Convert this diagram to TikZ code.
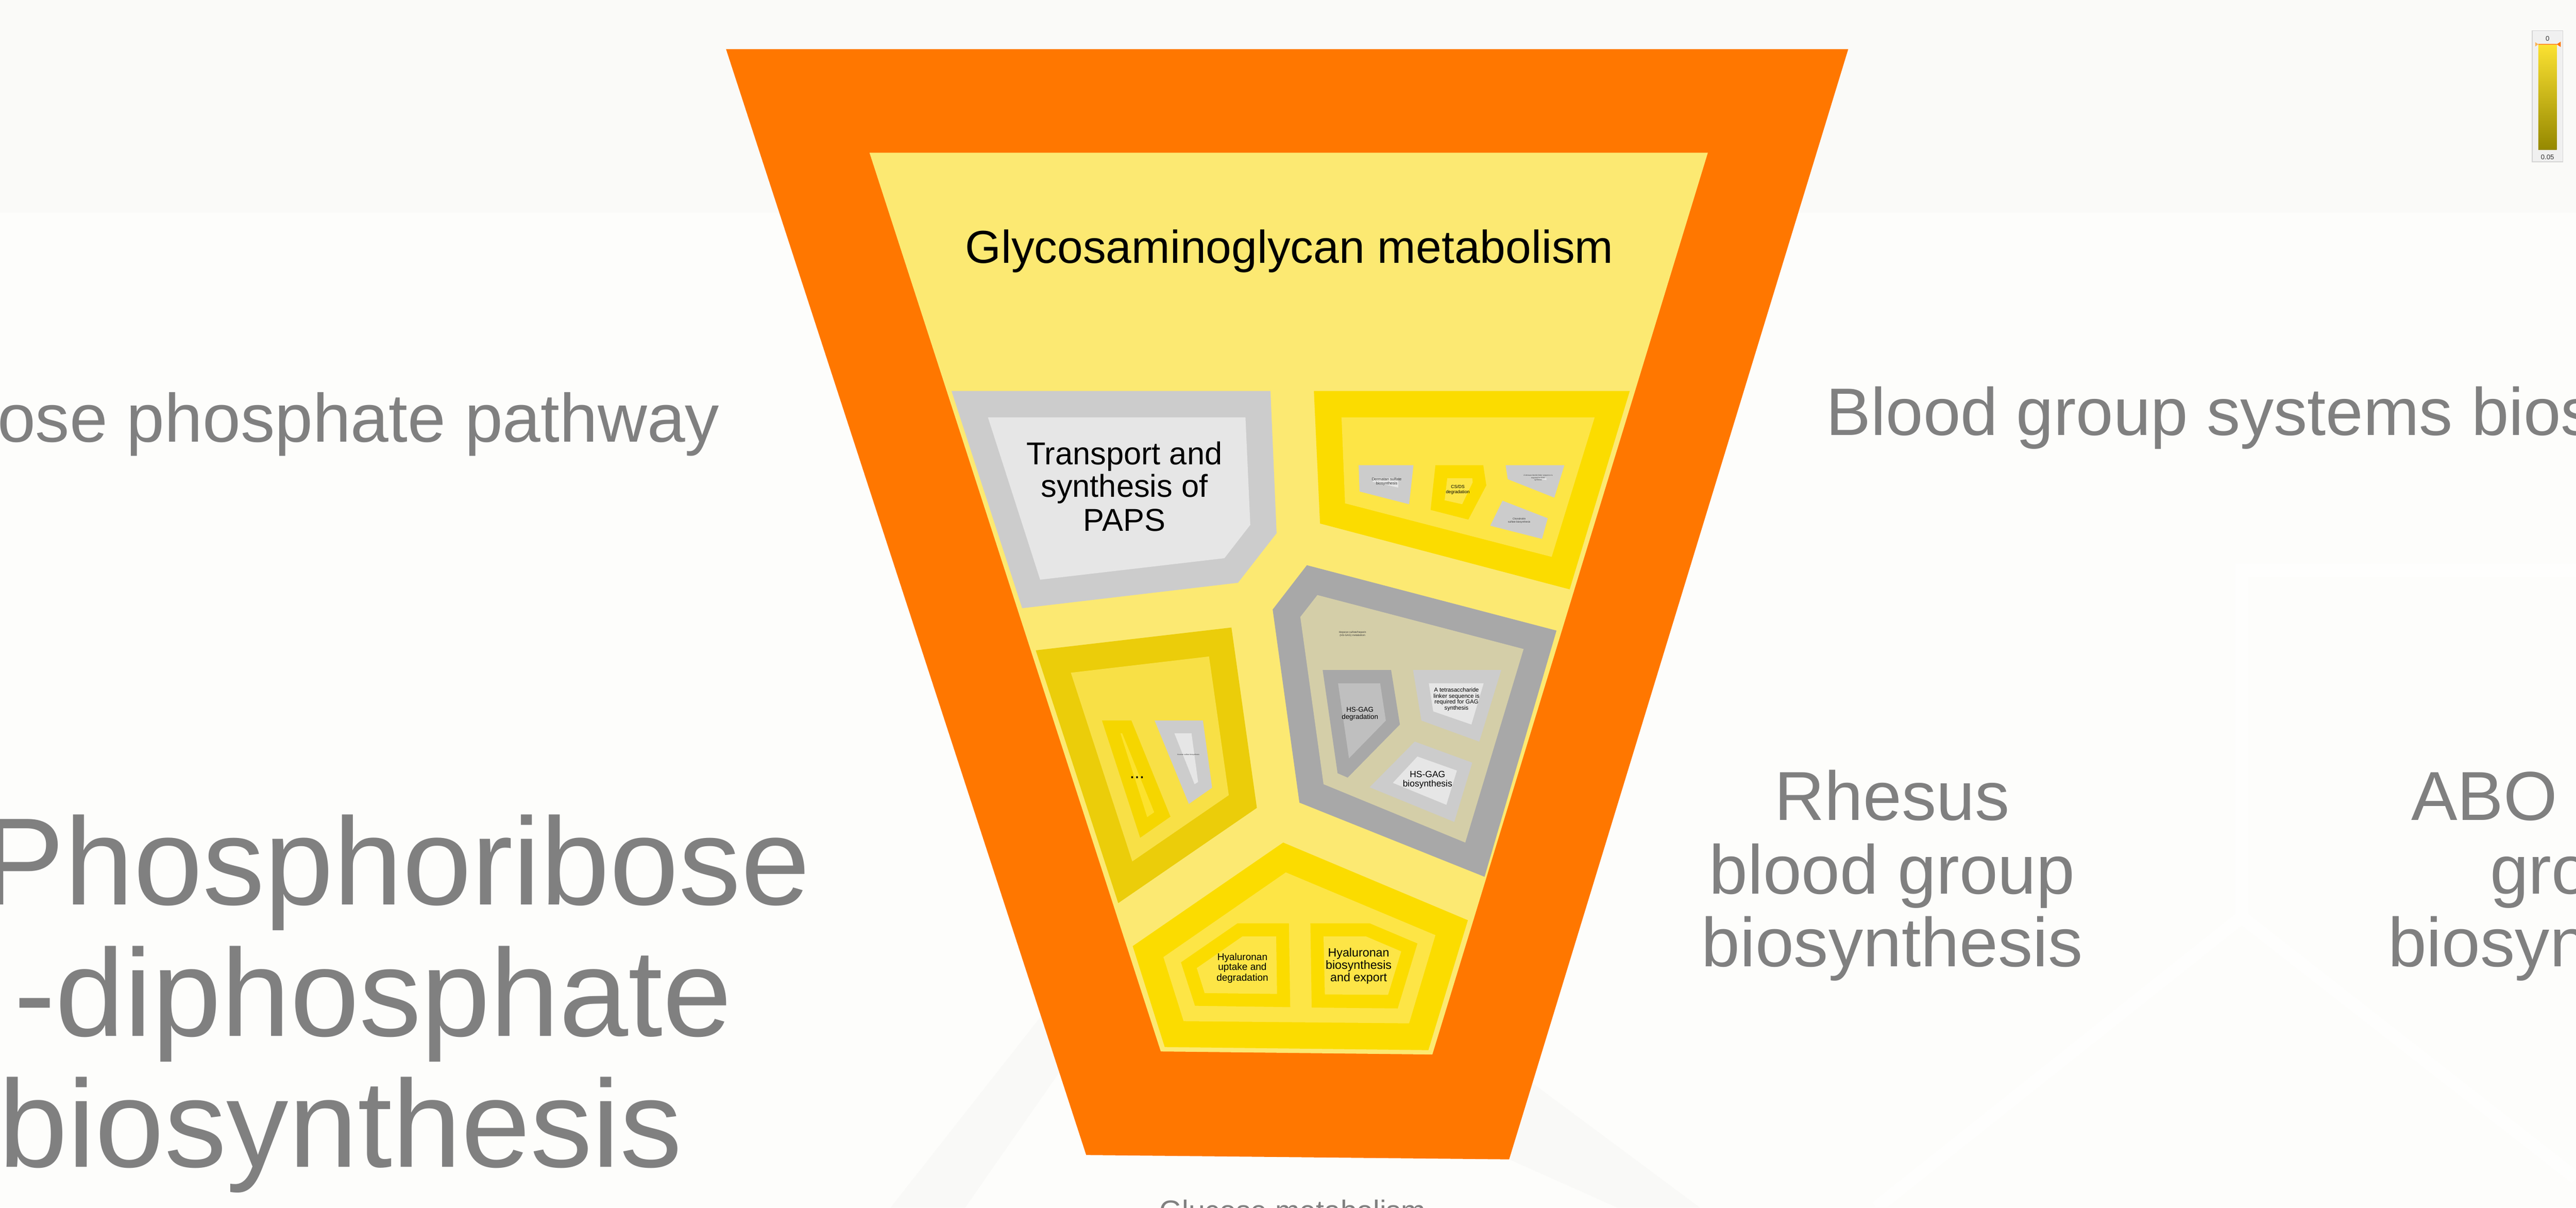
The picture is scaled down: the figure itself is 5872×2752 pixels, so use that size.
\documentclass[tikz,border=0pt]{standalone}
\usepackage{fontspec}
\setmainfont{Liberation Sans}
\newcommand\fsz[1]{\fontsize{#1pt}{#1pt}\selectfont}
\definecolor{bgbody}{HTML}{FDFDFB}
\definecolor{bgtop}{HTML}{FAFAF8}
\definecolor{faint}{HTML}{F9F9F7}
\definecolor{stripecol}{HTML}{FEFEFD}
\definecolor{orng}{HTML}{FF7700}
\definecolor{lyel}{HTML}{FCE972}
\definecolor{gold}{HTML}{FBDC00}
\definecolor{igold}{HTML}{FDE546}
\definecolor{dgold}{HTML}{EBCD0A}
\definecolor{idgold}{HTML}{F8E046}
\definecolor{dotgold}{HTML}{F5D600}
\definecolor{idotgold}{HTML}{FCE22D}
\definecolor{gryA}{HTML}{CCCCCC}
\definecolor{gryL}{HTML}{E6E6E6}
\definecolor{gryD}{HTML}{A8A8A8}
\definecolor{gryM}{HTML}{BFBFBF}
\definecolor{tan}{HTML}{D4CEA8}
\definecolor{txtgray}{HTML}{808080}
\definecolor{txtdark}{HTML}{333333}
\definecolor{cbbg}{HTML}{F0F0F0}
\definecolor{cbline}{HTML}{D4D4D4}
\definecolor{cbtop}{HTML}{FCE232}
\definecolor{cbbot}{HTML}{958800}
\definecolor{cblor}{HTML}{F9B45A}
\begin{document}
\begin{tikzpicture}[x=0.01cm,y=-0.01cm,
  lbl/.style={inner sep=0pt,outer sep=0pt,anchor=base},
  bigside/.style={lbl,text=txtgray},
  subside/.style={lbl,text=txtgray,font=\fsz{44.9}},
  stripe/.style={draw=stripecol,line width=8.5pt}]
\useasboundingbox (0,0) rectangle (5872,2752);
\clip (0,0) rectangle (5872,2752);
% background
\fill[bgbody] (0,0) rectangle (5872,2752);
\fill[bgtop] (0,0) rectangle (5872,485);
\fill[faint] (2373,2316) -- (2030,2752) -- (2200,2752) -- (2415,2443) -- cycle;
\fill[faint] (3493,2468) -- (3875,2752) -- (3687,2752) -- (3440,2642) -- cycle;
\coordinate (s0) at (5110,1300);
\coordinate (s1) at (5110,2090);
\coordinate (s2) at (4277,2752);
\coordinate (s3) at (5872,2685);
\coordinate (s4) at (5872,1300);
\draw[stripe] (s4) -- (s0) -- (s1) -- (s2);
\draw[stripe] (s1) -- (s3);
% main cell
\fill[orng] (1655,112) -- (4213,112) -- (3440,2642) -- (2476,2632) -- cycle;
\fill[lyel] (1982,348) -- (3893,348) -- (3265,2403) -- (2646,2396) -- cycle;
% PAPS
\fill[gryA] (2169,891) -- (2896,891) -- (2910,1215) -- (2822,1328) -- (2330,1386) -- cycle;
\fill[gryL] (2252,951) -- (2839,951) -- (2850,1196) -- (2791,1272) -- (2371,1321) -- cycle;
% top-right gold (CS/DS group)
\fill[gold] (2995,891) -- (3715,891) -- (3578,1343) -- (3009,1193) -- cycle;
\fill[igold] (3058,951) -- (3635,951) -- (3537,1269) -- (3066,1147) -- cycle;
\fill[gryA] (3097,1060) -- (3222,1060) -- (3212,1149) -- (3099,1120) -- cycle;
\fill[gryL] (3129,1089) -- (3187,1089) -- (3187,1111) -- (3129,1098) -- cycle;
\fill[gold] (3272,1060) -- (3381,1060) -- (3388,1106) -- (3347,1184) -- (3261,1162) -- cycle;
\fill[igold] (3299,1090) -- (3356,1090) -- (3357,1099) -- (3333,1149) -- (3293,1140) -- cycle;
\fill[gryA] (3432,1060) -- (3566,1060) -- (3543,1134) -- (3437,1092) -- cycle;
\fill[gryL] (3505,1090) -- (3525,1090) -- (3525,1094) -- cycle;
\fill[gryA] (3425,1141) -- (3528,1181) -- (3515,1228) -- (3397,1198) -- cycle;
% HS-GAG
\fill[gryD] (2979,1288) -- (3548,1437) -- (3384,1998) -- (2962,1829) -- (2901,1389) -- cycle;
\fill[tan] (3003,1356) -- (3473,1479) -- (3340,1920) -- (3017,1787) -- (2964,1406) -- cycle;
\fill[gryD] (3015,1527) -- (3171,1527) -- (3191,1651) -- (3072,1772) -- (3049,1762) -- cycle;
\fill[gryM] (3050,1557) -- (3146,1557) -- (3159,1642) -- (3075,1728) -- cycle;
\fill[gryA] (3221,1527) -- (3422,1527) -- (3372,1690) -- (3240,1642) -- cycle;
\fill[gryL] (3257,1557) -- (3382,1557) -- (3354,1651) -- (3267,1621) -- cycle;
\fill[gryA] (3225,1690) -- (3356,1738) -- (3315,1873) -- (3122,1794) -- cycle;
\fill[gryL] (3231,1724) -- (3321,1756) -- (3297,1834) -- (3175,1784) -- cycle;
% left dark gold
\fill[dgold] (2361,1482) -- (2807,1430) -- (2865,1841) -- (2549,2058) -- cycle;
\fill[idgold] (2441,1533) -- (2756,1496) -- (2801,1812) -- (2581,1963) -- cycle;
\fill[dotgold] (2512,1642) -- (2579,1642) -- (2668,1861) -- (2599,1909) -- cycle;
\fill[idotgold] (2554,1671) -- (2558,1671) -- (2631,1851) -- (2615,1862) -- cycle;
\fill[gryA] (2632,1642) -- (2742,1642) -- (2763,1795) -- (2710,1832) -- cycle;
\fill[gryL] (2677,1671) -- (2716,1671) -- (2731,1782) -- (2723,1787) -- cycle;
% hyaluronan
\fill[gold] (2925,1920) -- (3346,2097) -- (3256,2393) -- (2655,2386) -- (2582,2156) -- cycle;
\fill[igold] (2931,1988) -- (3272,2131) -- (3212,2332) -- (2698,2327) -- (2652,2181) -- cycle;
\fill[gold] (2821,2104) -- (2938,2104) -- (2941,2295) -- (2724,2292) -- (2692,2193) -- cycle;
\fill[igold] (2832,2134) -- (2909,2134) -- (2911,2265) -- (2746,2263) -- (2728,2206) -- cycle;
\fill[gold] (2987,2104) -- (3122,2104) -- (3231,2150) -- (3186,2298) -- (2990,2296) -- cycle;
\fill[igold] (3017,2134) -- (3114,2134) -- (3194,2168) -- (3164,2267) -- (3020,2266) -- cycle;
% colour bar
\fill[cbbg,draw=cbline,line width=0.5pt] (5772,70) rectangle (5842,369);
\shade[top color=cbtop,bottom color=cbbot] (5786,101) rectangle (5828,341);
\draw[orng!80!white,line width=0.6pt] (5786,101) -- (5828,101);
\fill[cblor] (5779,96) -- (5786,101) -- (5779,106) -- cycle;
\fill[orng] (5837,95) -- (5828,101) -- (5837,107) -- cycle;
\node[lbl,text=txtdark,font=\fsz{4.4}] (cb0) at (5807,93) {0};
\node[lbl,text=txtdark,font=\fsz{4.4}] (cb1) at (5807,363) {0.05};
% labels
\node[lbl,font=\fsz{29.88}] (title) at (2939,600) {Glycosaminoglycan metabolism};
\node[lbl,font=\fsz{20.5}] (paps1) at (2563,1059) {Transport and};
\node[lbl,font=\fsz{20.5}] (paps2) at (2563,1133) {synthesis of};
\node[lbl,font=\fsz{20.5}] (paps3) at (2563,1210) {PAPS};
\node[lbl,text=txtdark,font=\fsz{2.53}] (der1) at (3161,1095) {Dermatan sulfate};
\node[lbl,text=txtdark,font=\fsz{2.53}] (der2) at (3161,1104) {biosynthesis};
\node[lbl,font=\fsz{2.9}] (csds1) at (3323,1113) {CS/DS};
\node[lbl,font=\fsz{2.9}] (csds2) at (3323,1124) {degradation};
\node[lbl,text=txtdark,font=\fsz{1.17}] (tet1) at (3506,1085) {A tetrasaccharide linker sequence is};
\node[lbl,text=txtdark,font=\fsz{1.17}] (tet2) at (3506,1090) {required for GAG};
\node[lbl,text=txtdark,font=\fsz{1.17}] (tet3) at (3506,1095) {synthesis};
\node[lbl,text=txtdark,font=\fsz{1.65}] (cho1) at (3463,1184) {Chondroitin};
\node[lbl,text=txtdark,font=\fsz{1.65}] (cho2) at (3463,1191) {sulfate biosynthesis};
\node[lbl,text=txtdark,font=\fsz{1.65}] (hep1) at (3083,1443) {Heparan sulfate/heparin};
\node[lbl,text=txtdark,font=\fsz{1.65}] (hep2) at (3083,1450) {(HS-GAG) metabolism};
\node[lbl,font=\fsz{4.47}] (hsd1) at (3100,1622) {HS-GAG};
\node[lbl,font=\fsz{4.47}] (hsd2) at (3100,1639) {degradation};
\node[lbl,font=\fsz{3.73}] (tth1) at (3320,1577) {A tetrasaccharide};
\node[lbl,font=\fsz{3.73}] (tth2) at (3320,1591) {linker sequence is};
\node[lbl,font=\fsz{3.73}] (tth3) at (3320,1604) {required for GAG};
\node[lbl,font=\fsz{3.73}] (tth4) at (3320,1618) {synthesis};
\node[lbl,font=\fsz{5.83}] (hsb1) at (3254,1772) {HS-GAG};
\node[lbl,font=\fsz{5.83}] (hsb2) at (3254,1793) {biosynthesis};
\node[lbl,font=\fsz{11.4}] (dots) at (2592,1774) {...};
\node[lbl,text=txtdark,font=\fsz{1.14}] (ker) at (2709,1721) {Keratan sulfate biosynthesis};
\node[lbl,font=\fsz{6.35}] (hu1) at (2832,2189) {Hyaluronan};
\node[lbl,font=\fsz{6.35}] (hu2) at (2832,2211) {uptake and};
\node[lbl,font=\fsz{6.35}] (hu3) at (2832,2235) {degradation};
\node[lbl,font=\fsz{7.77}] (hb1) at (3097,2180) {Hyaluronan};
\node[lbl,font=\fsz{7.77}] (hb2) at (3097,2208) {biosynthesis};
\node[lbl,font=\fsz{7.77}] (hb3) at (3097,2237) {and export};
% surrounding cells
\node[bigside,anchor=base east,font=\fsz{44.3}] (ppp) at (1640,1007) {Pentose phosphate pathway};
\node[bigside,anchor=base west,font=\fsz{43.5}] (bgs) at (4163,992) {Blood group systems biosynthesis};
\node[subside] (rh1) at (4313,1869) {Rhesus};
\node[subside] (rh2) at (4313,2037) {blood group};
\node[subside] (rh3) at (4313,2203) {biosynthesis};
\node[subside] (abo1) at (5878,1869) {ABO blood};
\node[subside] (abo2) at (5878,2037) {group};
\node[subside] (abo3) at (5878,2203) {biosynthesis};
\node[lbl,anchor=base west,text=txtgray,font=\fsz{80.5}] (prpp1) at (-42,2062) {Phosphoribose};
\node[lbl,anchor=base west,text=txtgray,font=\fsz{80.5}] (prpp2) at (32,2361) {-diphosphate};
\node[lbl,anchor=base west,text=txtgray,font=\fsz{80.5}] (prpp3) at (-3,2659) {biosynthesis};
\node[lbl,text=txtgray,font=\fsz{19.06}] (glc) at (2946,2783) {Glucose metabolism};
\end{tikzpicture}
\end{document}
